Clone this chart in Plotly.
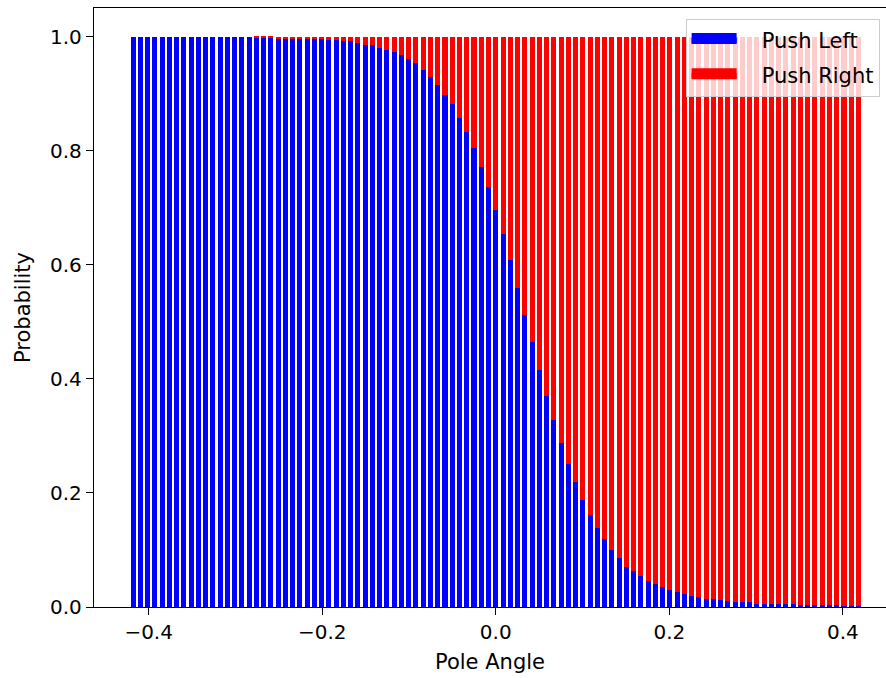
import plotly.graph_objects as go

POLE_ANGLE = [
    -0.41800, -0.40964, -0.40128, -0.39292, -0.38456, -0.37620, -0.36784, -0.35948, -0.35112, -0.34276,
    -0.33440, -0.32604, -0.31768, -0.30932, -0.30096, -0.29260, -0.28424, -0.27588, -0.26752, -0.25916,
    -0.25080, -0.24244, -0.23408, -0.22572, -0.21736, -0.20900, -0.20064, -0.19228, -0.18392, -0.17556,
    -0.16720, -0.15884, -0.15048, -0.14212, -0.13376, -0.12540, -0.11704, -0.10868, -0.10032, -0.09196,
    -0.08360, -0.07524, -0.06688, -0.05852, -0.05016, -0.04180, -0.03344, -0.02508, -0.01672, -0.00836,
    0.0,
    0.00836, 0.01672, 0.02508, 0.03344, 0.04180, 0.05016, 0.05852, 0.06688, 0.07524, 0.08360,
    0.09196, 0.10032, 0.10868, 0.11704, 0.12540, 0.13376, 0.14212, 0.15048, 0.15884, 0.16720,
    0.17556, 0.18392, 0.19228, 0.20064, 0.20900, 0.21736, 0.22572, 0.23408, 0.24244, 0.25080,
    0.25916, 0.26752, 0.27588, 0.28424, 0.29260, 0.30096, 0.30932, 0.31768, 0.32604, 0.33440,
    0.34276, 0.35112, 0.35948, 0.36784, 0.37620, 0.38456, 0.39292, 0.40128, 0.40964, 0.41800,
]

PUSH_LEFT = [
    1.0, 1.0, 1.0, 1.0, 1.0, 1.0, 1.0, 1.0, 1.0, 1.0,
    1.0, 1.0, 1.0, 1.0, 1.0, 1.0, 1.0, 0.998, 0.998, 0.998,
    0.997, 0.997, 0.997, 0.996, 0.996, 0.995, 0.995, 0.994, 0.994, 0.992,
    0.992, 0.989, 0.986, 0.986, 0.980, 0.977, 0.973, 0.967, 0.961, 0.953,
    0.941, 0.929, 0.915, 0.898, 0.881, 0.858, 0.833, 0.805, 0.771, 0.736,
    0.696,
    0.654, 0.609, 0.560, 0.512, 0.464, 0.416, 0.370, 0.327, 0.287, 0.251,
    0.219, 0.188, 0.162, 0.139, 0.119, 0.100, 0.086, 0.071, 0.063, 0.054,
    0.046, 0.040, 0.035, 0.029, 0.026, 0.023, 0.020, 0.017, 0.014, 0.014,
    0.012, 0.011, 0.009, 0.009, 0.009, 0.006, 0.006, 0.006, 0.005, 0.005,
    0.005, 0.004, 0.004, 0.003, 0.003, 0.003, 0.003, 0.002, 0.002, 0.002,
]

PUSH_RIGHT = [
    0.0, 0.0, 0.0, 0.0, 0.0, 0.0, 0.0, 0.0, 0.0, 0.0,
    0.0, 0.0, 0.0, 0.0, 0.0, 0.0, 0.0, 0.002, 0.002, 0.002,
    0.003, 0.003, 0.003, 0.004, 0.004, 0.005, 0.005, 0.006, 0.006, 0.008,
    0.008, 0.011, 0.014, 0.014, 0.020, 0.023, 0.027, 0.033, 0.039, 0.047,
    0.059, 0.071, 0.085, 0.102, 0.119, 0.142, 0.167, 0.195, 0.229, 0.264,
    0.304,
    0.346, 0.391, 0.440, 0.488, 0.536, 0.584, 0.630, 0.673, 0.713, 0.749,
    0.781, 0.812, 0.838, 0.861, 0.881, 0.900, 0.914, 0.929, 0.937, 0.946,
    0.954, 0.960, 0.965, 0.971, 0.974, 0.977, 0.980, 0.983, 0.986, 0.986,
    0.988, 0.989, 0.991, 0.991, 0.991, 0.994, 0.994, 0.994, 0.995, 0.995,
    0.995, 0.996, 0.996, 0.997, 0.997, 0.997, 0.997, 0.998, 0.998, 0.998,
]

SERIES_NAMES = ["Push Left", "Push Right"]
SERIES_COLORS = ["#0000ff", "#ff0000"]
Y_TICKS = [0.0, 0.2, 0.4, 0.6, 0.8, 1.0]
X_TICKS = [-0.4, -0.2, 0.0, 0.2, 0.4]

BAR_WIDTH = 0.0058
LEGEND_PAD = "\u00a0\u00a0\u00a0"  # gap between legend patch and label

fig = go.Figure()
for vals, name, color in zip([PUSH_LEFT, PUSH_RIGHT], SERIES_NAMES, SERIES_COLORS):
    fig.add_trace(go.Bar(x=POLE_ANGLE, y=vals, name=name, width=BAR_WIDTH,
                         marker=dict(color=color, line=dict(width=0)),
                         showlegend=False, legendgroup=name))
# legend-only entries drawn as wide filled patches (like matplotlib's legend handles)
for name, color in zip(SERIES_NAMES, SERIES_COLORS):
    fig.add_trace(go.Scatter(x=[None], y=[None], name=LEGEND_PAD + name, mode="lines",
                             line=dict(color=color, width=10), fill="toself",
                             fillcolor=color, legendgroup=name, showlegend=True,
                             hoverinfo="skip"))

fig.update_layout(
    width=886, height=678,
    margin=dict(l=94, r=0, t=8, b=71),
    barmode="stack",
    plot_bgcolor="white", paper_bgcolor="white",
    font=dict(family="DejaVu Sans", size=20, color="#000000"),
    legend=dict(x=0.747, y=0.982, xanchor="left", yanchor="top",
                traceorder="grouped",
                bgcolor="rgba(255,255,255,0.8)", bordercolor="#cccccc", borderwidth=1,
                font=dict(size=21), itemwidth=45, tracegroupgap=5),
)
fig.update_xaxes(
    range=[-0.463, 0.4497], tickvals=X_TICKS, tickformat=".1f",
    showline=True, linecolor="black", linewidth=1.3, mirror=True,
    ticks="outside", ticklen=7, tickwidth=1.3, tickcolor="black",
    showgrid=False, zeroline=False,
    title=dict(text="Pole Angle", standoff=11, font=dict(size=21)),
)
fig.update_yaxes(
    range=[0, 1.05], tickvals=Y_TICKS, tickformat=".1f",
    showline=True, linecolor="black", linewidth=1.3, mirror=False,
    ticks="outside", ticklen=7, tickwidth=1.3, tickcolor="black",
    showgrid=False, zeroline=False,
    title=dict(text="Probability", standoff=13, font=dict(size=21)),
)

fig.write_html("out.html")
